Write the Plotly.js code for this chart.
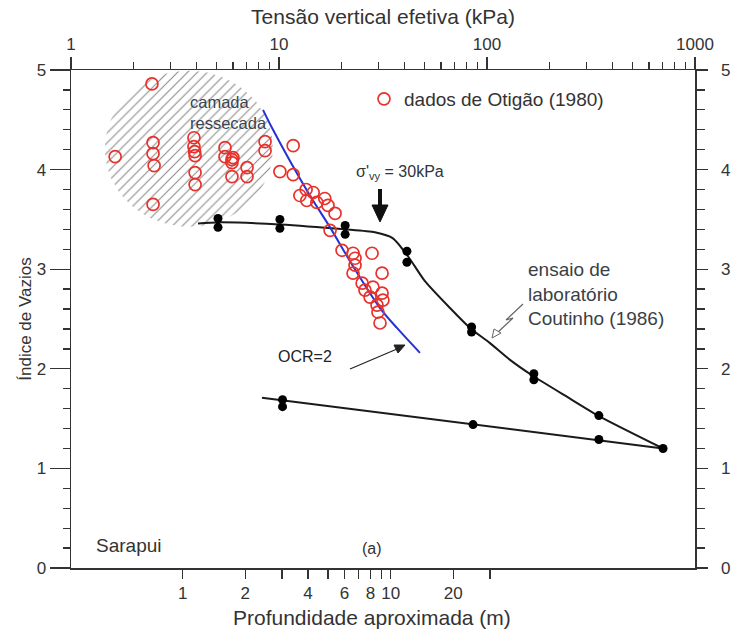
<!DOCTYPE html>
<html><head><meta charset="utf-8">
<script src="https://cdn.plot.ly/plotly-3.0.1.min.js"></script>
<style>html,body{margin:0;padding:0;background:#fff}</style>
</head><body><div id="chart" style="width:731px;height:632px"></div>
<script>
// ---- data (stress in kPa on the top log axis, void ratio on y) ----
const otigaoStress = [2.45,1.63,2.48,2.48,2.51,2.48,3.90,3.90,3.93,3.95,3.95,3.95,5.50,5.50,6.01,5.94,5.94,5.94,7.02,7.02,8.57,8.57,11.7,10.1,11.7,13.5,13.6,12.6,14.6,15.2,16.6,17.2,18.6,17.6,20.1,22.7,23.2,28.0,23.2,22.7,31.3,25.1,25.9,28.3,27.4,31.3,29.6,31.6,29.9,30.6];
const otigaoVoid   = [4.86,4.13,4.27,4.16,4.04,3.65,4.32,4.23,4.18,4.14,3.97,3.85,4.22,4.13,4.12,4.07,4.10,3.93,4.02,3.93,4.28,4.19,4.24,3.98,3.95,3.80,3.69,3.74,3.77,3.67,3.71,3.64,3.56,3.39,3.19,3.16,3.11,3.16,3.04,2.96,2.96,2.86,2.79,2.82,2.72,2.76,2.64,2.69,2.57,2.46];

const labPointStress = [5.09,5.09,10.1,10.1,20.8,20.8,41.2,41.2,84.3,84.3,168,168,345,702,345,85.7,10.4,10.4];
const labPointVoid   = [3.51,3.42,3.50,3.41,3.44,3.35,3.18,3.07,2.42,2.37,1.95,1.89,1.53,1.20,1.29,1.44,1.69,1.62];

const labLoadStress = [4.08,5.09,10.1,20.8,28.9,35.3,41.7,50.3,66.4,82.8,103,129,166,242,349,702];
const labLoadVoid   = [3.46,3.47,3.45,3.40,3.37,3.31,3.13,2.88,2.61,2.41,2.26,2.09,1.93,1.72,1.52,1.20];

const labUnloadStress = [8.28,702];
const labUnloadVoid   = [1.71,1.20];

const ocr2Stress = [8.38,9.25,13.8,17.6,22.7,30.6,36.9,47.6];
const ocr2Void   = [4.60,4.42,3.77,3.42,3.03,2.61,2.41,2.16];

const stressTickVals = [1,10,100,1000];
const stressTickText = ['1','10','100','1000'];
const depthTickVals = [1,2,4,6,8,10,20];
const depthTickText = ['1','2','4','6','8','10','20'];
const depthMinorVals = [3,5,7,9,30];
const voidTickVals = [0,1,2,3,4,5];
const voidTickText = ['0','1','2','3','4','5'];

// ---- helpers (decoration only) ----
const minorStress = [];
[1,10,100].forEach(d => { for (let k = 2; k <= 9; k++) minorStress.push(k*d); });
const minorVoid = [];
for (let i = 0; i < 25; i++) { const v = Math.round(i*0.2*10)/10; if (v % 1 !== 0) minorVoid.push(v); }

// hatched "camada ressecada" ellipse (log-x centre / radius)
const hatchCx = 0.567, hatchRx = 0.404, hatchCy = 4.21, hatchRy = 0.783;
const hx = [], hy = [];
for (let i = 0; i <= 80; i++) {
  const t = 2*Math.PI*i/80;
  hx.push(Math.pow(10, hatchCx + hatchRx*Math.cos(t)));
  hy.push(hatchCy + hatchRy*Math.sin(t));
}

const FONT = 'Liberation Sans, Arial, Helvetica, sans-serif';
const TXT = '#333333';
const px = v => (v-71)/624;       // pixel -> paper x
const py = v => (568-v)/498;      // pixel -> paper y
const P = (x, y) => `${px(x)},${py(y)}`;

const traces = [
  { x: hx, y: hy, type:'scatter', mode:'lines', fill:'toself', line:{width:0, color:'rgba(0,0,0,0)'},
    fillcolor:'rgba(0,0,0,0)',
    fillpattern:{shape:'/', fgcolor:'#8c8c8c', bgcolor:'rgba(255,255,255,0)', size:7, solidity:0.16},
    showlegend:false, hoverinfo:'skip' },
  { x: labLoadStress, y: labLoadVoid, type:'scatter', mode:'lines', line:{color:'#1a1a1a', width:2, shape:'spline', smoothing:0.6}, showlegend:false },
  { x: labUnloadStress, y: labUnloadVoid, type:'scatter', mode:'lines', line:{color:'#1a1a1a', width:2}, showlegend:false },
  { x: labPointStress, y: labPointVoid, type:'scatter', mode:'markers', marker:{color:'#000', size:9}, showlegend:false },
  { x: ocr2Stress, y: ocr2Void, type:'scatter', mode:'lines', line:{color:'#2432d6', width:2, shape:'spline', smoothing:0.8}, showlegend:false },
  { x: otigaoStress, y: otigaoVoid, type:'scatter', mode:'markers', name:'dados de Otigão (1980)',
    marker:{symbol:'circle-open', size:12, color:'#e8312b', line:{width:1.7, color:'#e8312b'}} },
  { x:[1], y:[null], xaxis:'x2', yaxis:'y', type:'scatter', mode:'markers', showlegend:false, hoverinfo:'skip' },
  { x:[1], y:[null], xaxis:'x', yaxis:'y2', type:'scatter', mode:'markers', showlegend:false, hoverinfo:'skip' }
];

const axLine = {showline:true, linecolor:'#333', linewidth:1.5, showgrid:false, zeroline:false,
  tickcolor:'#333', tickwidth:1.3, ticks:'outside', tickfont:{family:FONT, size:17, color:TXT}};

const layout = {
  width:731, height:632,
  margin:{l:71, r:36, t:70, b:64, pad:0},
  paper_bgcolor:'#fff', plot_bgcolor:'#fff',
  font:{family:FONT, color:TXT},
  showlegend:true,
  legend:{x:px(364), y:py(99), xanchor:'left', yanchor:'middle', bgcolor:'rgba(0,0,0,0)', borderwidth:0,
    font:{family:FONT, size:19, color:TXT}},
  xaxis: Object.assign({}, axLine, {type:'log', range:[0,3], side:'top', anchor:'y',
    tickmode:'array', tickvals:stressTickVals, ticktext:stressTickText, ticklen:12,
    minor:{tickmode:'array', tickvals:minorStress, ticks:'outside', ticklen:7, tickwidth:1.3, tickcolor:'#333', showgrid:false},
    title:{text:'Tensão vertical efetiva (kPa)', font:{family:FONT, size:21, color:TXT}, standoff:4}}),
  xaxis2: Object.assign({}, axLine, {type:'log', range:[-0.537, 2.463], overlaying:'x', side:'bottom', anchor:'y',
    tickmode:'array', tickvals:depthTickVals, ticktext:depthTickText, ticklen:9,
    minor:{tickmode:'array', tickvals:depthMinorVals, ticks:'outside', ticklen:9, tickwidth:1.3, tickcolor:'#333', showgrid:false}}),
  yaxis: Object.assign({}, axLine, {range:[0,5], side:'left', anchor:'x',
    tickmode:'array', tickvals:voidTickVals, ticktext:voidTickText, ticklen:20,
    minor:{tickmode:'array', tickvals:minorVoid, ticks:'outside', ticklen:7, tickwidth:1.3, tickcolor:'#333', showgrid:false},
    title:{text:'Índice de Vazios', font:{family:FONT, size:17, color:TXT}, standoff:0}}),
  yaxis2: Object.assign({}, axLine, {range:[0,5], overlaying:'y', side:'right', anchor:'x',
    tickmode:'array', tickvals:voidTickVals, ticktext:voidTickText, ticklen:11, ticklabelstandoff:10,
    minor:{tickmode:'array', tickvals:minorVoid, ticks:'outside', ticklen:8, tickwidth:1.3, tickcolor:'#333', showgrid:false}}),
  shapes:[
    // lightning-style pointer to the lab curve
    {type:'path', xref:'paper', yref:'paper',
     path:`M ${P(523,304)} L ${P(506,320)} L ${P(513,318)} L ${P(497,333)}`,
     line:{color:'#666', width:1.2}},
    {type:'path', xref:'paper', yref:'paper',
     path:`M ${P(492,338)} L ${P(494,329)} L ${P(501,333)} Z`,
     line:{color:'#666', width:1}, fillcolor:'#fff'},
    // thick arrow for sigma'vy
    {type:'path', xref:'paper', yref:'paper',
     path:`M ${P(380,189)} L ${P(380,208)}`, line:{color:'#111', width:4}},
    {type:'path', xref:'paper', yref:'paper',
     path:`M ${P(372,205)} L ${P(388,205)} L ${P(380,222)} Z`, line:{color:'#111', width:1}, fillcolor:'#111'},
    // OCR=2 pointer
    {type:'path', xref:'paper', yref:'paper',
     path:`M ${P(350,369)} L ${P(397,349)}`, line:{color:'#222', width:1.2}},
    {type:'path', xref:'paper', yref:'paper',
     path:`M ${P(405,345)} L ${P(394,345)} L ${P(398,353)} Z`, line:{color:'#222', width:1}, fillcolor:'#222'}
  ],
  annotations:[
    {xref:'paper', yref:'paper', x:px(188), y:py(112), xanchor:'left', yanchor:'middle', align:'left', showarrow:false,
     text:'camada<br>ressecada', font:{family:FONT, size:16.5, color:'#3c4450'}},
    {xref:'paper', yref:'paper', x:px(354), y:py(172), xanchor:'left', yanchor:'middle', showarrow:false,
     text:"σ'<sub>vy</sub> = 30kPa", font:{family:FONT, size:16, color:'#2d3540'}},
    {xref:'paper', yref:'paper', x:px(526), y:py(294), xanchor:'left', yanchor:'middle', align:'left', showarrow:false,
     text:'ensaio de<br>laboratório<br>Coutinho (1986)', font:{family:FONT, size:19, color:'#3a3f48'}},
    {xref:'paper', yref:'paper', x:px(305), y:py(356), xanchor:'center', yanchor:'middle', showarrow:false,
     text:'OCR=2', font:{family:FONT, size:16, color:'#222'}},
    {xref:'paper', yref:'paper', x:px(94), y:py(545), xanchor:'left', yanchor:'middle', showarrow:false,
     text:'Sarapui', font:{family:FONT, size:19, color:TXT}},
    {xref:'paper', yref:'paper', x:px(372), y:py(548), xanchor:'center', yanchor:'middle', showarrow:false,
     text:'(a)', font:{family:FONT, size:16, color:TXT}},
    {xref:'paper', yref:'paper', x:px(372), y:py(617), xanchor:'center', yanchor:'middle', showarrow:false,
     text:'Profundidade aproximada (m)', font:{family:FONT, size:21, color:TXT}}
  ]
};

Plotly.newPlot('chart', traces, layout, {staticPlot:true, displayModeBar:false});
</script></body></html>
